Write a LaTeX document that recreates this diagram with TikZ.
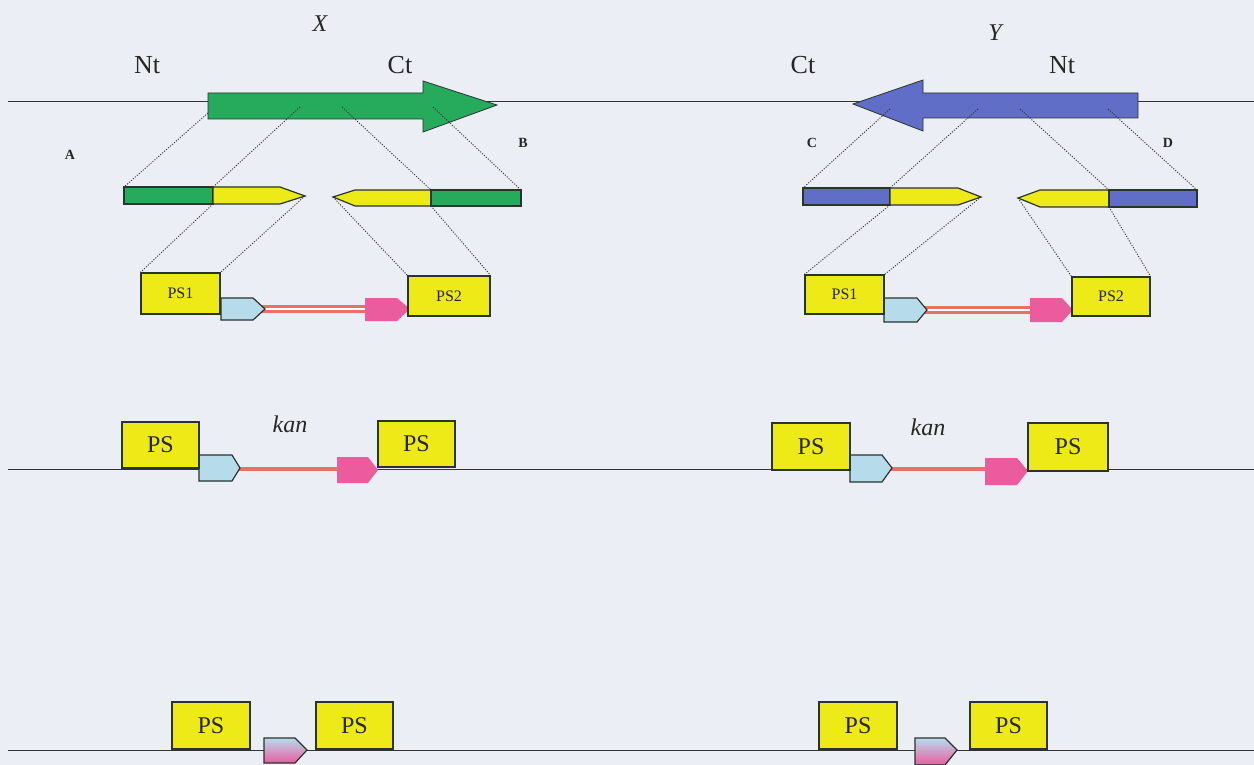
\documentclass[tikz,border=0pt]{standalone}
\usepackage{fontspec}
\setmainfont{Liberation Serif}
\definecolor{bg}{RGB}{236,238,245}
\definecolor{gfill}{RGB}{38,170,92}
\definecolor{bfill}{RGB}{96,110,200}
\definecolor{yfill}{RGB}{238,234,24}
\definecolor{cfill}{RGB}{182,220,236}
\definecolor{pfill}{RGB}{234,92,158}
\definecolor{kred}{RGB}{232,112,102}
\definecolor{edge}{RGB}{40,52,44}
\tikzset{
  outline/.style={draw=edge, line width=1.2pt, line join=miter},
  dna/.style={draw=black!80, line width=1pt},
  guide/.style={draw=black!80, line width=0.9pt, dash pattern=on 1.1pt off 1.5pt},
  psbox/.style={outline, fill=yfill, inner sep=0pt, text=black!85},
  pssmall/.style={psbox, font=\fontsize{16}{16}\selectfont},
  pslarge/.style={psbox, font=\fontsize{24}{24}\selectfont},
  termlbl/.style={font=\fontsize{26}{26}\selectfont, text=black!85},
  genelbl/.style={font=\fontsize{24}{24}\selectfont\itshape, text=black!85},
  primlbl/.style={font=\fontsize{14}{14}\selectfont\bfseries, text=black!85},
  kanlbl/.style={font=\fontsize{24}{24}\selectfont\itshape, text=black!85},
  promoter/.style={outline, fill=cfill},
  cassette/.style={fill=pfill},
  dbl/.style={draw=kred, line width=2.4pt, double=white, double distance=2.4pt},
  solidkan/.style={draw=kred!70!black, line width=0.6pt, double=kred, double distance=3.2pt},
  scar/.style={outline, top color=cfill, bottom color=pfill, shading angle=0}
}
\begin{document}
\begin{tikzpicture}[x=1pt, y=-1pt]
\useasboundingbox (0,0) rectangle (1254,765);
\fill[bg] (0,0) rectangle (1254,765);

% chromosome lines
\coordinate (l1a) at (8,102);   \coordinate (l1b) at (1254,102);
\coordinate (l3a) at (8,469);   \coordinate (l3b) at (1254,469);
\coordinate (l4a) at (8,750);   \coordinate (l4b) at (1254,750);
\draw[dna] (l1a) -- (l1b);
\draw[dna] (l3a) -- (l3b);
\draw[dna] (l4a) -- (l4b);

% ---------- gene X ----------
\path[outline, line width=0.8pt, fill=gfill] (208,93) -- (423,93) -- (423,81) -- (497,105)
  -- (423,132) -- (423,119) -- (208,119) -- cycle;
\node[genelbl] (xl) at (320,24) {X};
\node[termlbl] (xnt) at (147,65) {Nt};
\node[termlbl] (xct) at (400,65) {Ct};
\node[primlbl] (pa) at (70,155) {A};
\node[primlbl] (pb) at (523,143) {B};

% PCR products flanking X
\coordinate (xa1) at (208,113); \coordinate (xa2) at (300,107);
\coordinate (xa3) at (342,107); \coordinate (xa4) at (433,107);
\path[outline, fill=gfill] (124,187) rectangle (213,204);
\path[outline, fill=yfill] (213,187) -- (280,187) -- (305,196) -- (280,204) -- (213,204) -- cycle;
\path[outline, fill=yfill] (333,197) -- (355,190) -- (431,190) -- (431,206) -- (355,206) -- cycle;
\path[outline, fill=gfill] (431,190) rectangle (521,206);
\coordinate (xb1) at (124,187); \coordinate (xb2) at (213,187);
\coordinate (xb3) at (431,190); \coordinate (xb4) at (521,190);
\coordinate (xc1) at (213,204); \coordinate (xc2) at (305,196);
\coordinate (xc3) at (333,197); \coordinate (xc4) at (431,206);
\draw[guide] (xa1) -- (xb1);
\draw[guide] (xa2) -- (xb2);
\draw[guide] (xa3) -- (xb3);
\draw[guide] (xa4) -- (xb4);

% primed kan cassette for X
\draw[dbl] (262,309) -- (368,309);
\path[promoter] (221,298) -- (253,298) -- (265,309) -- (253,320) -- (221,320) -- cycle;
\path[cassette] (365,298) -- (397,298) -- (410,309) -- (397,321) -- (365,321) -- cycle;
\node[pssmall, minimum width=79, minimum height=41] (xps1) at (180.5,293.5) {PS1};
\node[pssmall, minimum width=82, minimum height=40] (xps2) at (449,296) {PS2};
\draw[guide] (xc1) -- (xps1.north west);
\draw[guide] (xc2) -- (xps1.north east);
\draw[guide] (xc3) -- (xps2.north west);
\draw[guide] (xc4) -- (xps2.north east);

% ---------- gene Y ----------
\path[outline, line width=0.8pt, fill=bfill] (1138,93) -- (923,93) -- (923,80) -- (853,104)
  -- (923,131) -- (923,118) -- (1138,118) -- cycle;
\node[genelbl] (yl) at (995,33) {Y};
\node[termlbl] (yct) at (803,65) {Ct};
\node[termlbl] (ynt) at (1062,65) {Nt};
\node[primlbl] (pc) at (812,143) {C};
\node[primlbl] (pd) at (1168,143) {D};

\coordinate (ya1) at (890,109); \coordinate (ya2) at (978,109);
\coordinate (ya3) at (1020,109); \coordinate (ya4) at (1108,109);
\path[outline, fill=bfill] (803,188) rectangle (890,205);
\path[outline, fill=yfill] (890,188) -- (958,188) -- (981,197) -- (958,205) -- (890,205) -- cycle;
\path[outline, fill=yfill] (1018,198) -- (1040,190) -- (1109,190) -- (1109,207) -- (1040,207) -- cycle;
\path[outline, fill=bfill] (1109,190) rectangle (1197,207);
\coordinate (yb1) at (803,188); \coordinate (yb2) at (890,188);
\coordinate (yb3) at (1109,190); \coordinate (yb4) at (1197,190);
\coordinate (yc1) at (890,205); \coordinate (yc2) at (981,197);
\coordinate (yc3) at (1018,198); \coordinate (yc4) at (1109,207);
\draw[guide] (ya1) -- (yb1);
\draw[guide] (ya2) -- (yb2);
\draw[guide] (ya3) -- (yb3);
\draw[guide] (ya4) -- (yb4);

\draw[dbl] (924,310) -- (1033,310);
\path[promoter] (884,298) -- (917,298) -- (927,310) -- (917,322) -- (884,322) -- cycle;
\path[cassette] (1030,298) -- (1062,298) -- (1073,310) -- (1062,322) -- (1030,322) -- cycle;
\node[pssmall, minimum width=79, minimum height=39] (yps1) at (844.5,294.5) {PS1};
\node[pssmall, minimum width=78, minimum height=39] (yps2) at (1111,296.5) {PS2};
\draw[guide] (yc1) -- (yps1.north west);
\draw[guide] (yc2) -- (yps1.north east);
\draw[guide] (yc3) -- (yps2.north west);
\draw[guide] (yc4) -- (yps2.north east);

% ---------- insertion alleles ----------
\draw[solidkan] (237,469) -- (340,469);
\path[promoter] (199,455) -- (232,455) -- (240,468) -- (232,481) -- (199,481) -- cycle;
\path[cassette] (337,457) -- (368,457) -- (378,470) -- (368,483) -- (337,483) -- cycle;
\node[pslarge, minimum width=77, minimum height=46] (xps3a) at (160.5,445) {PS};
\node[pslarge, minimum width=77, minimum height=46] (xps3b) at (416.5,444) {PS};
\node[kanlbl] (xkan) at (290,424) {kan};

\draw[solidkan] (889,469) -- (988,469);
\path[promoter] (850,455) -- (882,455) -- (892,468) -- (882,482) -- (850,482) -- cycle;
\path[cassette] (985,458) -- (1017,458) -- (1028,471) -- (1017,485) -- (985,485) -- cycle;
\node[pslarge, minimum width=78, minimum height=47] (yps3a) at (811,446.5) {PS};
\node[pslarge, minimum width=80, minimum height=48] (yps3b) at (1068,447) {PS};
\node[kanlbl] (ykan) at (928,427) {kan};

% ---------- excised (scar) alleles ----------
\path[scar] (264,738) -- (295,738) -- (307,750) -- (295,763) -- (264,763) -- cycle;
\node[pslarge, minimum width=78, minimum height=47] (xps4a) at (211,725.5) {PS};
\node[pslarge, minimum width=77, minimum height=47] (xps4b) at (354.5,725.5) {PS};

\path[scar] (915,738) -- (945,738) -- (957,750) -- (945,765) -- (915,765) -- cycle;
\node[pslarge, minimum width=78, minimum height=47] (yps4a) at (858,725.5) {PS};
\node[pslarge, minimum width=77, minimum height=47] (yps4b) at (1008.5,725.5) {PS};
\end{tikzpicture}
\end{document}
